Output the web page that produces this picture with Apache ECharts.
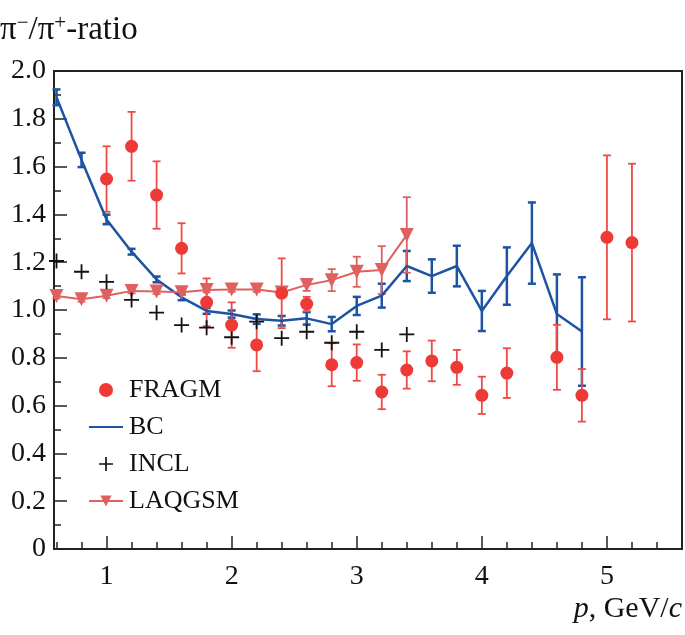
<!DOCTYPE html>
<html>
<head>
<meta charset="utf-8">
<script src="https://cdn.jsdelivr.net/npm/echarts@6/dist/echarts.min.js"></script>
<style>
html,body{margin:0;padding:0;background:#fff;}
#chart{width:685px;height:635px;}
</style>
</head>
<body>
<div id="chart"></div>
<script>
// ---- data ----
const fragmX = [1.0,1.2,1.4,1.6,1.8,2.0,2.2,2.4,2.6,2.8,3.0,3.2,3.4,3.6,3.8,4.0,4.2,4.6,4.8,5.0,5.2];
const fragmY = [1.548,1.685,1.481,1.258,1.032,0.937,0.854,1.07,1.025,0.771,0.78,0.657,0.749,0.787,0.76,0.643,0.736,0.802,0.643,1.304,1.282];
const fragmErr = [0.137,0.144,0.141,0.105,0.1,0.095,0.11,0.146,0.03,0.09,0.076,0.072,0.078,0.085,0.073,0.078,0.104,0.136,0.11,0.343,0.33];

const bcX = [0.6,0.8,1.0,1.2,1.4,1.6,1.8,2.0,2.2,2.4,2.6,2.8,3.0,3.2,3.4,3.6,3.8,4.0,4.2,4.4,4.6,4.8];
const bcY = [1.89,1.628,1.379,1.244,1.128,1.053,0.996,0.983,0.962,0.955,0.965,0.941,1.017,1.06,1.184,1.142,1.184,0.996,1.142,1.28,0.983,0.91];
const bcErr = [0.033,0.03,0.02,0.012,0.012,0.012,0.012,0.015,0.02,0.02,0.026,0.03,0.038,0.05,0.063,0.07,0.085,0.084,0.12,0.17,0.166,0.227];

const inclX = [0.6,0.8,1.0,1.2,1.4,1.6,1.8,2.0,2.2,2.4,2.6,2.8,3.0,3.2,3.4];
const inclY = [1.205,1.16,1.118,1.042,0.989,0.937,0.926,0.886,0.951,0.882,0.909,0.863,0.909,0.833,0.898];

const laqX = [0.6,0.8,1.0,1.2,1.4,1.6,1.8,2.0,2.2,2.4,2.6,2.8,3.0,3.2,3.4];
const laqY = [1.059,1.045,1.06,1.08,1.077,1.074,1.084,1.086,1.086,1.073,1.105,1.125,1.16,1.167,1.314];
const laqErr = [0.01,0.01,0.01,0.01,0.01,0.01,0.01,0.01,0.01,0.015,0.025,0.046,0.063,0.1,0.158];

const xMajorTicks = [1,2,3,4,5];
const xMinorTicks = [0.6,0.8,1.2,1.4,1.6,1.8,2.2,2.4,2.6,2.8,3.2,3.4,3.6,3.8,4.2,4.4,4.6,4.8,5.2,5.4];

// ---- helpers ----
const SERIF = '"Liberation Serif","Times New Roman",serif';
const pairs = (xs, ys) => xs.map((x, i) => [x, ys[i]]);
const errData = (xs, ys, es) => xs.map((x, i) => [x, ys[i] - es[i], ys[i] + es[i]]);
function errRender(color, capHalf, lw) {
  return function (params, api) {
    const x = api.value(0), lo = api.value(1), hi = api.value(2);
    const p1 = api.coord([x, lo]), p2 = api.coord([x, hi]);
    const st = { stroke: color, lineWidth: lw };
    return {
      type: 'group',
      children: [
        { type: 'line', shape: { x1: p1[0], y1: p1[1], x2: p2[0], y2: p2[1] }, style: st },
        { type: 'line', shape: { x1: p1[0] - capHalf, y1: p1[1], x2: p1[0] + capHalf, y2: p1[1] }, style: st },
        { type: 'line', shape: { x1: p2[0] - capHalf, y1: p2[1], x2: p2[0] + capHalf, y2: p2[1] }, style: st }
      ]
    };
  };
}
const crossPath = 'path://M4.4,0H5.6V4.4H10V5.6H5.6V10H4.4V5.6H0V4.4H4.4Z';

const RED = '#ee3a36', BLUE = '#1d53a3', PINK = '#e06060', BLACK = '#111';

const chart = echarts.init(document.getElementById('chart'), null, { renderer: 'canvas' });
chart.setOption({
  animation: false,
  backgroundColor: '#fff',
  title: {
    left: 0, top: 13, padding: 0,
    text: '{a|π}{s|−}{a|/π}{s|+}{a|-ratio}',
    textStyle: {
      fontWeight: 'normal',
      rich: {
        a: { fontFamily: SERIF, fontSize: 33, fontWeight: 'normal', color: BLACK, verticalAlign: 'bottom', lineHeight: 34 },
        s: { fontFamily: SERIF, fontSize: 21, fontWeight: 'normal', color: BLACK, verticalAlign: 'top', lineHeight: 34 }
      }
    }
  },
  graphic: [{
    type: 'text',
    style: {
      x: 682, y: 609, align: 'right', verticalAlign: 'middle',
      text: '{i|p}{n|, GeV/}{i|c}',
      rich: {
        i: { fontFamily: SERIF, fontSize: 30, fontStyle: 'italic', fill: BLACK },
        n: { fontFamily: SERIF, fontSize: 30, fill: BLACK }
      }
    }
  }],
  legend: {
    orient: 'vertical',
    left: 88, top: 377, padding: 0,
    itemWidth: 34, itemHeight: 14, itemGap: 11,
    textStyle: { fontFamily: SERIF, fontSize: 26, color: BLACK, lineHeight: 24, padding: [0, 0, 0, 1] },
    data: ['FRAGM', { name: 'BC', itemStyle: { opacity: 0 } }, 'INCL', 'LAQGSM']
  },
  grid: {
    left: 54, right: 3, top: 71, bottom: 86,
    show: true, borderColor: '#222', borderWidth: 2, backgroundColor: 'transparent'
  },
  xAxis: [{
    type: 'value', min: 0.58, max: 5.6, position: 'bottom',
    axisLine: { lineStyle: { color: '#222', width: 2 } },
    axisTick: { inside: true, length: 13, customValues: xMajorTicks, lineStyle: { color: '#222', width: 1.5 } },
    axisLabel: { customValues: xMajorTicks, fontFamily: SERIF, fontSize: 28, color: BLACK, margin: 14 },
    splitLine: { show: false }
  }, {
    type: 'value', min: 0.58, max: 5.6, position: 'bottom',
    axisLine: { show: false },
    axisTick: { inside: true, length: 7, customValues: xMinorTicks, lineStyle: { color: '#222', width: 1.5 } },
    axisLabel: { show: false },
    splitLine: { show: false }
  }],
  yAxis: {
    type: 'value', min: 0, max: 2, interval: 0.2,
    axisLine: { show: true, lineStyle: { color: '#222', width: 2 } },
    axisTick: { show: true, inside: true, length: 13, lineStyle: { color: '#222', width: 1.5 } },
    minorTick: { show: true, splitNumber: 2, length: 7, lineStyle: { color: '#222', width: 1.5 } },
    axisLabel: {
      fontFamily: SERIF, fontSize: 28, color: BLACK, margin: 8,
      formatter: v => (v === 0 ? '0' : v.toFixed(1))
    },
    splitLine: { show: false }
  },
  series: [
    {
      type: 'custom', name: 'bcErr', z: 3,
      renderItem: errRender(BLUE, 4, 2.5),
      encode: { x: 0, y: [1, 2] },
      data: errData(bcX, bcY, bcErr)
    },
    {
      type: 'custom', name: 'fragmErr', z: 3,
      renderItem: errRender('#f04a46', 4, 1.8),
      encode: { x: 0, y: [1, 2] },
      data: errData(fragmX, fragmY, fragmErr)
    },
    {
      type: 'custom', name: 'laqErr', z: 3,
      renderItem: errRender(PINK, 4, 1.8),
      encode: { x: 0, y: [1, 2] },
      data: errData(laqX, laqY, laqErr)
    },
    {
      name: 'BC', type: 'line', z: 4,
      symbol: 'circle', showSymbol: false,
      lineStyle: { color: BLUE, width: 2.5 },
      itemStyle: { color: BLUE },
      data: pairs(bcX, bcY)
    },
    {
      name: 'LAQGSM', type: 'line', z: 5,
      symbol: 'triangle', symbolRotate: 180, symbolSize: 14, showSymbol: true,
      lineStyle: { color: PINK, width: 2 },
      itemStyle: { color: PINK, opacity: 1 },
      data: pairs(laqX, laqY)
    },
    {
      name: 'INCL', type: 'scatter', z: 5,
      symbol: crossPath, symbolSize: 15, symbolKeepAspect: true,
      itemStyle: { color: BLACK, opacity: 1 },
      data: pairs(inclX, inclY)
    },
    {
      name: 'FRAGM', type: 'scatter', z: 6,
      symbol: 'circle', symbolSize: 13,
      itemStyle: { color: RED, opacity: 1 },
      data: pairs(fragmX, fragmY)
    }
  ]
});
</script>
</body>
</html>
